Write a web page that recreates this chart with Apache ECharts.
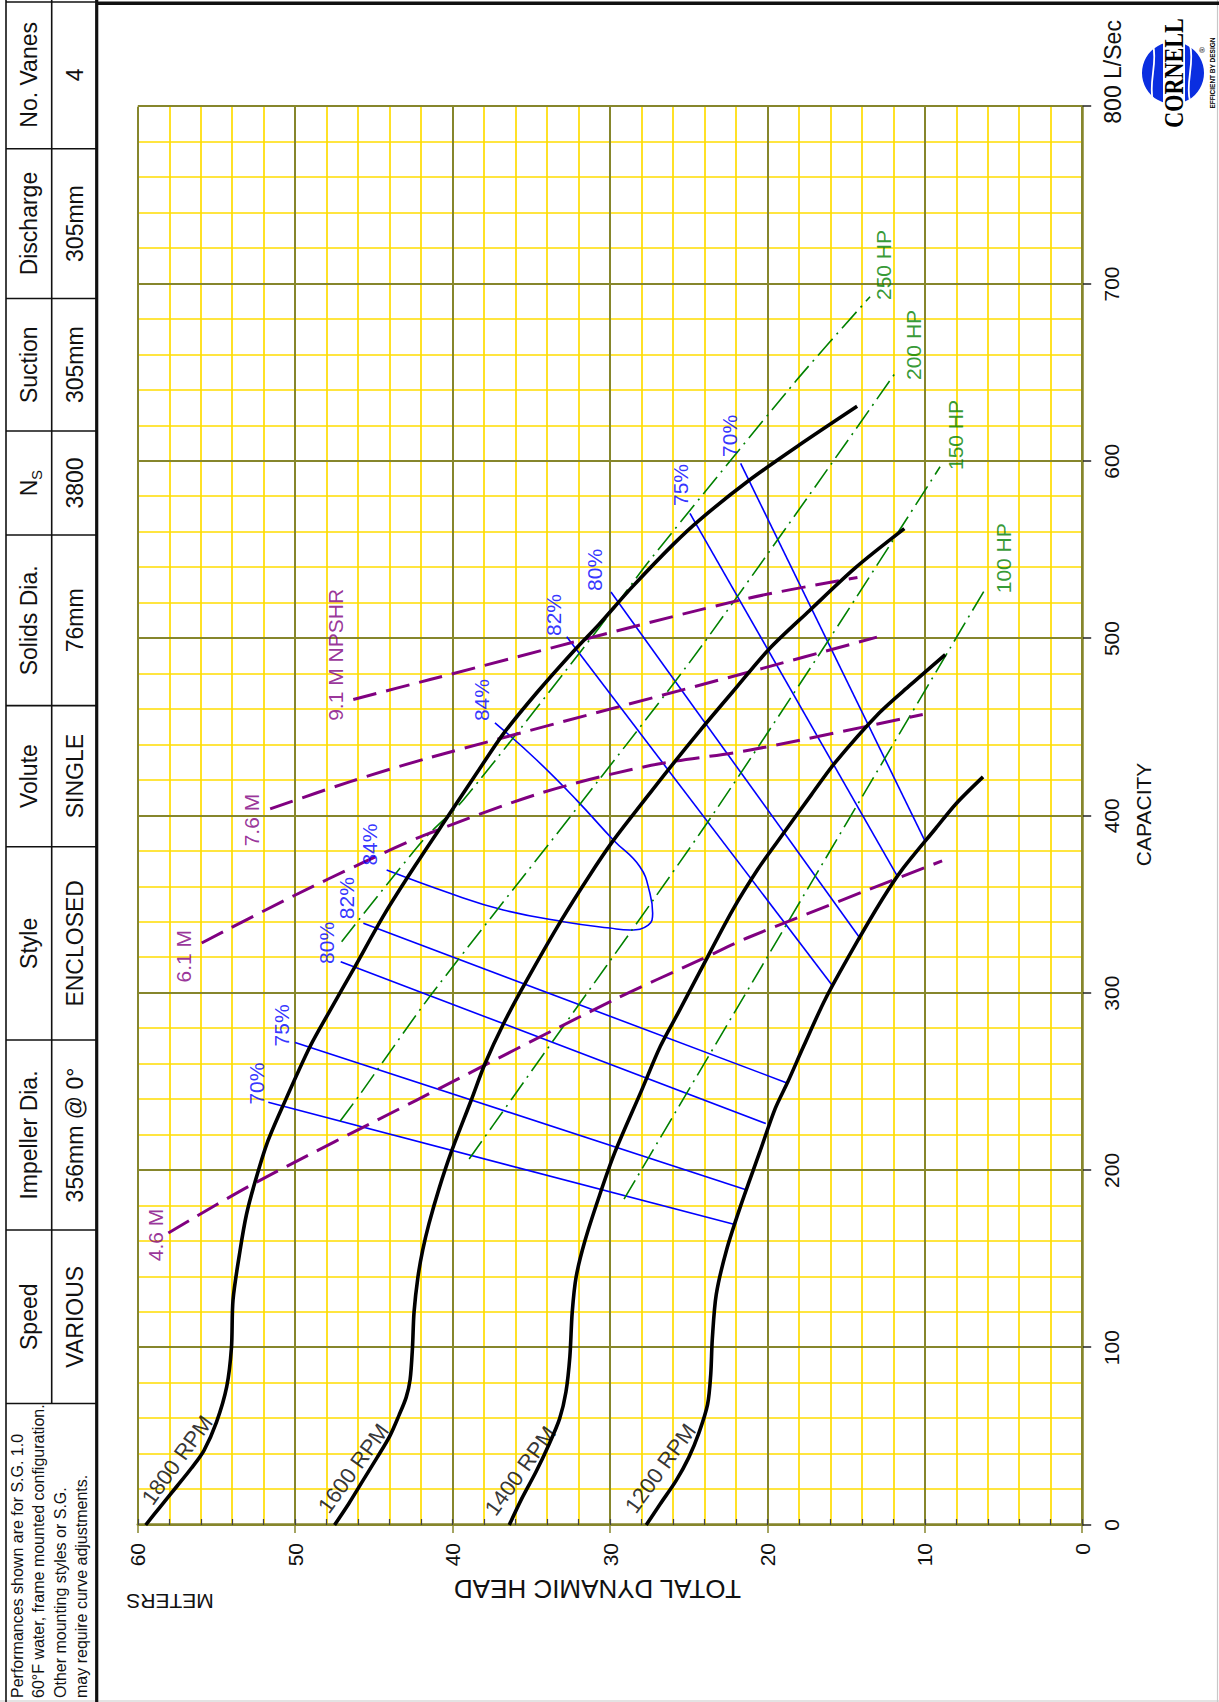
<!DOCTYPE html>
<html><head><meta charset="utf-8">
<script src="https://cdn.jsdelivr.net/npm/echarts/dist/echarts.min.js"></script>
<style>
html,body{margin:0;padding:0;background:#fff;overflow:hidden;width:1219px;height:1702px;}
#wrap{position:absolute;left:0;top:0;width:1702px;height:1219px;transform-origin:0 0;transform:translate(0px,1702px) rotate(-90deg);}
#chart{width:1702px;height:1219px;}
</style></head><body>
<div id="wrap"><div id="chart"></div></div>
<script>
// ---------------- DATA (capacity L/s, head m) ----------------
const capacityTicks = [0,100,200,300,400,500,600,700,800];
const headTicks = [0,10,20,30,40,50,60];

const rpm1800 = [[0,59.5],[10,58.6],[22,57.5],[32,56.6],[42,55.8],[58,55.0],[78,54.35],[100,54.05],[127,53.95],[155,53.5],[175,53.1],[192,52.6],[215,51.8],[236,50.8],[270,49.05],[290,47.8],[315,46.2],[345,44.3],[373,42.3],[401,40.2],[425,38.4],[446,36.8],[470,34.6],[494,32.2],[508,30.7],[529,28.6],[553,26.0],[567,24.3],[589,21.2],[609,18.0],[631,14.3]];
const rpm1600 = [[0,47.5],[12,46.6],[25,45.7],[38,44.8],[50,44.0],[62,43.4],[72,42.95],[82,42.7],[100,42.55],[120,42.45],[140,42.2],[155,41.9],[170,41.5],[190,40.85],[210,40.1],[240,38.8],[260,37.95],[283,36.75],[307,35.3],[341,33.1],[365,31.4],[386,29.8],[409,27.8],[426,26.3],[450,24.1],[470,22.2],[494,19.9],[516,17.3],[540,14.4],[562,11.3]];
const rpm1400 = [[0,36.4],[15,35.6],[30,34.7],[45,33.9],[60,33.2],[75,32.8],[95,32.55],[120,32.4],[140,32.15],[160,31.6],[185,30.7],[210,29.7],[245,28.0],[270,26.8],[290,25.6],[312,24.3],[347,22.2],[370,20.6],[385,19.4],[412,17.2],[430,15.7],[458,12.9],[474,10.9],[491,8.7]];
const rpm1200 = [[0,27.7],[12,26.8],[25,25.8],[38,25.0],[52,24.35],[68,23.8],[85,23.6],[105,23.5],[130,23.25],[155,22.6],[180,21.7],[210,20.5],[235,19.5],[250,18.7],[270,17.7],[297,16.3],[329,14.3],[353,12.7],[369,11.5],[393,9.3],[407,8.0],[422,6.3]];

const npsh46 = [[164.7,58.06],[192.4,52.66],[239.7,42.28],[296.1,29.79],[318.7,24.28],[331.8,21.1],[374.6,8.9]];
const npsh61 = [[328.3,55.94],[354.8,50.12],[373.7,45.67],[388.8,41.86],[413.2,34.27],[428.5,27.38],[437.1,21.1],[457.2,10.13]];
const npsh76 = [[403.9,51.59],[419.3,46.5],[432.9,41.43],[481.3,21.1],[500.8,13.04]];
const npsh91 = [[465.6,46.31],[476.9,41.43],[521.7,21.74],[534.4,14.28]];

const hp250 = [[329,47.05],[386.4,41.86],[408.9,39.32],[506.7,30.64],[544.3,27.46],[645.8,18.14],[692.8,13.48]];
const hp200 = [[227.7,47.15],[241.6,45.99],[298.2,41.44],[408.9,31.7],[494.5,24.28],[649.5,11.9]];
const hp150 = [[206.4,38.95],[241.6,36.14],[390.2,24.28],[494.5,16.45],[596.9,9.03]];
const hp100 = [[183.8,29.11],[494.5,8.4],[529.3,6.07]];

const eff70Low = [[238.5,51.71],[169.6,22.13]];
const eff75Low = [[272.2,50.01],[189.3,21.41]];
const eff80Low = [[317.7,47.11],[226.4,20.1]];
const eff82Low = [[339.4,45.67],[249.5,18.8]];
const eff84Loop = [[369.4,44.19],[356.3,40.17],[346.9,36.78],[340.3,32.97],[336.7,30.0],[335.6,28.73],[338.4,27.57],[345.0,27.29],[356.2,27.46],[371.3,28.1],[386.4,29.79],[408.9,32.12],[431.5,34.66],[452.5,37.31]];
const eff82High = [[501.0,32.75],[304.6,15.9]];
const eff80High = [[526.3,29.94],[330.4,14.07]];
const eff75High = [[570.6,24.92],[365.6,11.72]];
const eff70High = [[598.8,21.70],[386.0,10.0]];

const rpmLabels = [['1800 RPM',36.7,57.5],['1600 RPM',32.0,46.3],['1400 RPM',30.5,35.7],['1200 RPM',32.0,26.8]];
const effLabels = [['70%',249.0,52.45],['75%',281.8,50.86],['80%',328.3,48.0],['82%',353.6,46.73],['84%',383.8,45.25],
                   ['84%',465.3,38.15],['82%',513.3,33.59],['80%',538.7,30.96],['75%',586.6,25.55],['70%',614.3,22.38]];
const npshLabels = [['4.6 M',163.6,58.9],['6.1 M',320.8,57.1],['7.6 M',397.6,52.76],['9.1 M NPSHR',490.8,47.47]];
const hpLabels = [['250 HP',710.7,12.64],['200 HP',665.6,10.73],['150 HP',614.8,8.08],['100 HP',545.3,5.01]];

const tableHeaders = ['Speed','Impeller Dia.','Style','Volute','Solids Dia.','N','Suction','Discharge','No. Vanes'];
const tableValues  = ['VARIOUS','356mm @ 0\u00B0','ENCLOSED','SINGLE','76mm','3800','305mm','305mm','4'];
const notes = ['Performances shown are for S.G. 1.0','60\u00B0F water, frame mounted configuration.','Other mounting styles or S.G.','may require curve adjustments.'];

// ---------------- LAYOUT / STYLE ----------------
const W = 1702, H = 1219;
const GRID = {left:177, right:106.7, top:137.8, bottom:136.8};
const OLIVE = '#86862c', YELLOW = '#ffdc00';
const FONT = "'Liberation Sans', Arial, sans-serif";
const SERIF = "'Liberation Serif', 'DejaVu Serif', serif";
const BLUE = '#0000ff', PURPLE = '#800080', GREEN = '#008000', LOGOBLUE = '#0a2ee0';
const cellEdges = [0,298.5,472,662,855.3,996.4,1167,1271,1403.5,1553.3,1701];

const chart = echarts.init(document.getElementById('chart'), null, {renderer:'svg', width:W, height:H});

function line(data, color, width, type, z, smooth) {
  return {type:'line', data:data, symbol:'none', showSymbol:false, silent:true, z:z,
    smooth:smooth, lineStyle:{color:color, width:width, type:type, cap:'butt', join:'round'}};
}
function labelSeries(list, color, size, rotate) {
  return {type:'scatter', symbolSize:1, silent:true, z:30, itemStyle:{color:'rgba(0,0,0,0)'},
    data: list.map(l => ({value:[l[1], l[2]], label:{show:true, position:'inside', formatter:l[0],
      color:color, fontSize:size, fontFamily:FONT, rotate:rotate}}))};
}

const series = [];
[eff70Low,eff75Low,eff80Low,eff82Low,eff82High,eff80High,eff75High,eff70High].forEach(d => series.push(line(d, BLUE, 1.6, 'solid', 3, false)));
series.push(line(eff84Loop, BLUE, 1.6, 'solid', 3, 0.45));
[hp250,hp200,hp150,hp100].forEach(d => series.push(line(d, GREEN, 1.6, [22,6,2,6], 4, 0.25)));
[npsh46,npsh61,npsh76,npsh91].forEach(d => series.push(line(d, PURPLE, 3, [24,10], 5, 0.3)));
[rpm1800,rpm1600,rpm1400,rpm1200].forEach(d => series.push(line(d, '#000', 3.6, 'solid', 6, 0.3)));
series.push(labelSeries(rpmLabels, '#000', 22, -36));
series.push(labelSeries(effLabels, BLUE, 21, 0));
series.push(labelSeries(npshLabels, PURPLE, 21, 0));
series.push(labelSeries(hpLabels, GREEN, 21, 0));

const hidden = {axisLine:{show:false}, axisTick:{show:false}, axisLabel:{show:false}};
const option = {
  animation:false,
  backgroundColor:'#fff',
  grid: GRID,
  xAxis: [
    {type:'value', min:0, max:800, interval:100, position:'bottom', z:0,
     axisLine:{show:true, onZero:false, lineStyle:{color:OLIVE, width:2.5}},
     axisTick:{show:true, length:9, lineStyle:{color:'#222', width:1.5}},
     axisLabel:{margin:19, fontSize:21, color:'#111', fontFamily:FONT, showMinLabel:true, showMaxLabel:true,
       formatter: v => v === 800 ? '' : String(v)},
     splitLine:{show:false},
     minorTick:{show:false, splitNumber:5},
     minorSplitLine:{show:true, lineStyle:{color:YELLOW, width:1.7}}},
    Object.assign({type:'value', min:0, max:800, interval:100, position:'bottom', z:1,
     splitLine:{show:true, lineStyle:{color:OLIVE, width:2}}}, hidden)
  ],
  yAxis: [
    {type:'value', min:0, max:60, interval:10, position:'left', z:0,
     axisLine:{show:true, onZero:false, lineStyle:{color:OLIVE, width:2.5}},
     axisTick:{show:true, length:8, lineStyle:{color:OLIVE, width:1.5}},
     axisLabel:{margin:18, fontSize:21, color:'#111', fontFamily:FONT, showMinLabel:true, showMaxLabel:true},
     splitLine:{show:false},
     minorTick:{show:false, splitNumber:5},
     minorSplitLine:{show:true, lineStyle:{color:YELLOW, width:1.7}}},
    Object.assign({type:'value', min:0, max:60, interval:10, position:'left', z:1,
     splitLine:{show:true, lineStyle:{color:OLIVE, width:2}}}, hidden),
    {type:'value', min:0, max:60, interval:2, position:'left', z:1,
     axisLine:{show:false}, axisLabel:{show:false}, splitLine:{show:false},
     axisTick:{show:true, inside:true, length:6, lineStyle:{color:'#444', width:1.2}}}
  ],
  series: series
};
chart.setOption(option);

// ---------------- FRAME, TABLE, TITLES, LOGO ----------------
const g = [];
function L(x1,y1,x2,y2,w,c){ g.push({type:'line', silent:true, z:50, shape:{x1,y1,x2,y2}, style:{stroke:c||'#111', lineWidth:w||1.5}}); }
function T(text,x,y,size,opt){ opt = opt || {}; const el = {type:'text', silent:true, z:opt.z||51, x:x, y:y,
  style:Object.assign({text:text, fontSize:size, fontFamily:FONT, fill:'#111', align:'center', verticalAlign:'middle'}, opt.style||{})};
  if (opt.rotation !== undefined) el.rotation = opt.rotation;
  if (opt.scaleX !== undefined) el.scaleX = opt.scaleX;
  g.push(el); }

// page edges
L(1, 0, 1, H, 1.2, '#c8c8c8');
L(0, H-1.5, W, H-1.5, 1.2, '#c8c8c8');
// table frame
L(0, 6, W, 6, 1.6);
L(cellEdges[1], 51.7, W, 51.7, 1.6);
L(0, 96.7, W, 96.7, 3.2);
L(W-2, 6, W-2, 96.7, 1.6);
for (let i = 1; i < cellEdges.length-1; i++) L(cellEdges[i], 6, cellEdges[i], 96.7, 1.6);
// chart top border (right edge in landscape)
L(W-3.3, 96.7, W-3.3, H, 3.6);
// table text
for (let i = 0; i < tableHeaders.length; i++) {
  const cx = (cellEdges[i+1] + cellEdges[i+2]) / 2;
  if (tableHeaders[i] === 'N') {
    T('N', cx-5, 29, 23);
    T('S', cx+8, 36, 15);
  } else {
    T(tableHeaders[i], cx, 29, 23);
  }
  T(tableValues[i], cx, 74.5, 23);
}
[17,38,60,81].forEach((y,i) => T(notes[i], 4, y, 16, {style:{align:'left'}}));

// axis titles
T('TOTAL DYNAMIC HEAD', 113, 597.5, 26, {rotation:Math.PI/2});
T('METERS', 100.3, 170, 21, {rotation:Math.PI/2});
T('CAPACITY', 887.6, 1143.3, 21);
const p800 = chart.convertToPixel({gridIndex:0}, [800, 0]);
T('800 L/Sec', p800[0]-17, p800[1]+31, 23, {style:{align:'left'}});

// logo: blue sphere with white waves, white band carrying the wordmark
const LC = {x:1629, y:1173, r:31};
g.push({type:'circle', silent:true, z:50, shape:{cx:LC.x, cy:LC.y, r:LC.r}, style:{fill:LOGOBLUE}});
[-20, 17].forEach(dy => g.push({type:'bezierCurve', silent:true, z:51,
  shape:{x1:LC.x-28, y1:LC.y+dy, x2:LC.x+28, y2:LC.y+dy, cpx1:LC.x-10, cpy1:LC.y+dy-5, cpx2:LC.x+10, cpy2:LC.y+dy+5},
  style:{stroke:'#fff', lineWidth:1.8, fill:null}}));
g.push({type:'rect', silent:true, z:52, shape:{x:LC.x-33, y:LC.y-10, width:66, height:22}, style:{fill:'#fff'}});
T('CORNELL', LC.x, LC.y+1, 27, {z:53, scaleX:0.82, style:{fontFamily:SERIF, fontWeight:'bold', fill:'#000'}});
T('\u00AE', LC.x+23, LC.y+29, 8, {z:53, style:{fill:'#000'}});
T('EFFICIENT BY DESIGN', LC.x, LC.y+39, 6.5, {z:53, style:{fontWeight:'bold', fill:'#000'}});

chart.setOption({graphic: g});
</script>
</body></html>
